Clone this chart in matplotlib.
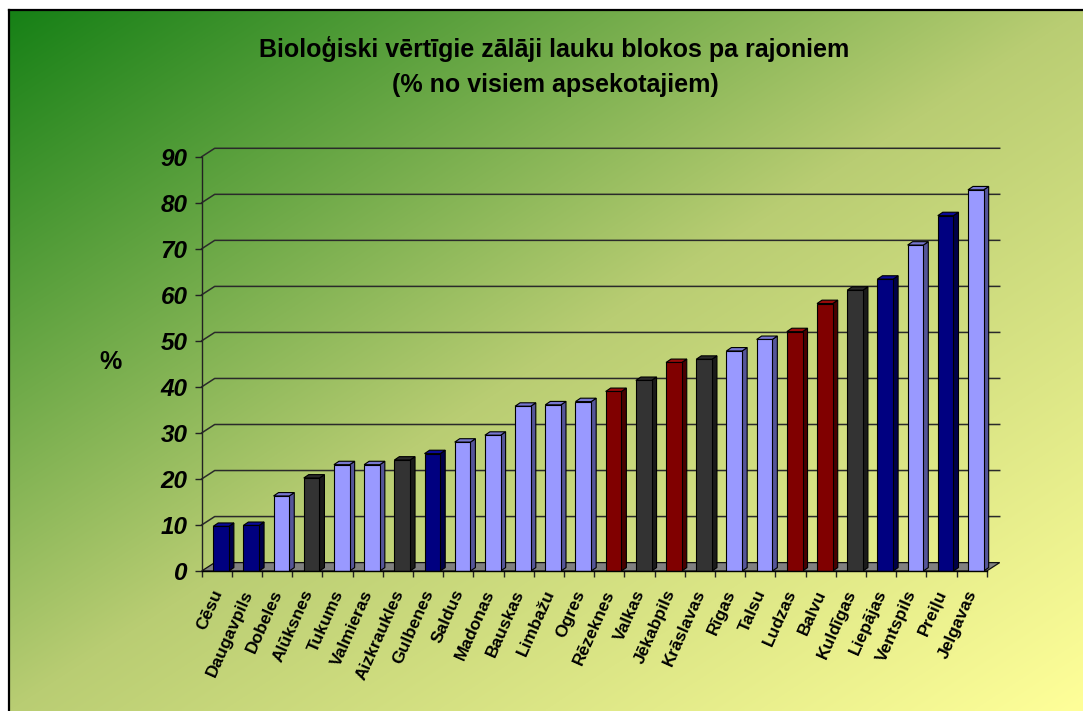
import numpy as np
import matplotlib
matplotlib.use("Agg")
import matplotlib.pyplot as plt
from matplotlib.patches import Polygon
from matplotlib.lines import Line2D

plt.rcParams['font.family'] = ['Liberation Sans', 'DejaVu Sans']

# ---------------- data ----------------
categories = ["Cēsu", "Daugavpils", "Dobeles", "Alūksnes", "Tukums", "Valmieras",
              "Aizkraukles", "Gulbenes", "Saldus", "Madonas", "Bauskas", "Limbažu",
              "Ogres", "Rēzeknes", "Valkas", "Jēkabpils", "Krāslavas", "Rīgas",
              "Talsu", "Ludzas", "Balvu", "Kuldīgas", "Liepājas", "Ventspils",
              "Preiļu", "Jelgavas"]
values = [9.7, 9.9, 16.3, 20.2, 23.1, 23.1, 24.1, 25.5, 28.0, 29.5, 35.8, 36.1,
          36.8, 39.0, 41.4, 45.3, 46.0, 47.8, 50.3, 52.0, 58.1, 61.0, 63.4, 70.8,
          77.2, 82.8]
groups = ["navy", "navy", "light", "gray", "light", "light", "gray", "navy",
          "light", "light", "light", "light", "light", "red", "gray", "red",
          "gray", "light", "light", "red", "red", "gray", "navy", "light",
          "navy", "light"]
yticks = [0, 10, 20, 30, 40, 50, 60, 70, 80, 90]
title_lines = ["Bioloģiski vērtīgie zālāji lauku blokos pa rajoniem",
               "(% no visiem apsekotajiem)"]
ylabel = "%"

palette = {
    "navy":  ("#000080", "#000048", "#0a0a99"),
    "light": ("#9999FF", "#555599", "#7777D0"),
    "gray":  ("#333333", "#1a1a1a", "#2a2a2a"),
    "red":   ("#800000", "#480000", "#990a0a"),
}

W, H = 1083, 711
fig = plt.figure(figsize=(W / 100, H / 100), dpi=100)

# ---------------- background gradient ----------------
bg = fig.add_axes([0, 0, 1, 1], zorder=-10)
bg.set_axis_off()
xx, yy = np.meshgrid(np.linspace(0, 1, 400), np.linspace(0, 1, 300))
t = (xx + yy) / 2
stops_t = [0.0, 0.5, 1.0]
stops_c = np.array([[22, 128, 22], [185, 205, 115], [255, 255, 153]]) / 255.0
img = np.zeros(t.shape + (3,))
for k in range(3):
    img[..., k] = np.interp(t, stops_t, stops_c[:, k])
bg.imshow(img, extent=[9, W, H, 10], aspect='auto', interpolation='bilinear')
bg.set_xlim(0, W)
bg.set_ylim(H, 0)
bg.add_line(Line2D([9, W], [10, 10], color='black', lw=1.6))
bg.add_line(Line2D([9, 9], [10, H], color='black', lw=1.6))

# ---------------- main axes ----------------
x0, x1 = 201.7, 986.7
y0, y1 = 571.0, 156.7
ax = fig.add_axes([x0 / W, 1 - y0 / H, (x1 - x0) / W, (y0 - y1) / H])
ax.set_facecolor('none')
n = len(categories)
ax.set_xlim(0, n)
ax.set_ylim(0, 90)
for s in ['top', 'right', 'bottom']:
    ax.spines[s].set_visible(False)
ax.spines['left'].set_color('#222222')
ax.spines['left'].set_linewidth(1.0)

# depth offsets (in data units)
px_x = (x1 - x0) / n
px_y = (y0 - y1) / 90
dx = 13 / px_x
dy = 8.4 / px_y
bdx = 5 / px_x
bdy = 3.4 / px_y

# floor
ax.add_patch(Polygon([(0, 0), (n, 0), (n + dx, dy), (dx, dy)], closed=True,
                     fc='#808080', ec='#111111', lw=0.9, clip_on=False, zorder=1))
# gridlines on back wall with left-wall slant
for v in yticks[1:]:
    ax.add_line(Line2D([0, dx, n + dx], [v, v + dy, v + dy], color='#2a2a2a',
                       lw=1.1, clip_on=False, zorder=0.5))

# bars
xs = np.arange(n) + 0.38
bw = 0.52
fronts = [palette[g][0] for g in groups]
ax.bar(xs, values, width=bw, align='edge', color=fronts, edgecolor='black',
       linewidth=0.8, zorder=3)
for xi, v, g in zip(xs, values, groups):
    _, side, top = palette[g]
    xr = xi + bw
    ax.add_patch(Polygon([(xr, 0), (xr + bdx, bdy), (xr + bdx, v + bdy), (xr, v)],
                         closed=True, fc=side, ec='black', lw=0.8, zorder=2.9,
                         clip_on=False))
    ax.add_patch(Polygon([(xi, v), (xi + bdx, v + bdy), (xr + bdx, v + bdy), (xr, v)],
                         closed=True, fc=top, ec='black', lw=0.8, zorder=2.9,
                         clip_on=False))

# front floor edge
ax.add_line(Line2D([0, n], [0, 0], color='black', lw=1.0, zorder=4, clip_on=False))

# ticks
ax.set_yticks(yticks)
ax.set_yticklabels([str(v) for v in yticks], fontsize=17.5, fontweight='bold',
                   fontstyle='italic')
ax.tick_params(axis='y', direction='out', length=5, width=1, pad=5,
               color='#222222')
ax.set_xticks(np.arange(n + 1))
ax.set_xticklabels([])
ax.tick_params(axis='x', which='major', direction='out', length=4.5, width=1,
               color='#222222')
ax.set_xticks(np.arange(n) + 0.55, minor=True)
ax.set_xticklabels(categories, minor=True, rotation=66, ha='right', va='center',
                   rotation_mode='anchor', fontsize=12.5, fontweight='bold')
ax.tick_params(axis='x', which='minor', length=0, pad=14)

# labels
fig.text(110 / W, 1 - 362 / H, ylabel, fontsize=18, fontweight='bold',
         ha='center', va='center')
fig.text(554 / W, 1 - 49 / H, title_lines[0], fontsize=18, fontweight='bold',
         ha='center', va='center')
fig.text(555 / W, 1 - 85 / H, title_lines[1], fontsize=18, fontweight='bold',
         ha='center', va='center')

fig.savefig("out.png", dpi=100)
